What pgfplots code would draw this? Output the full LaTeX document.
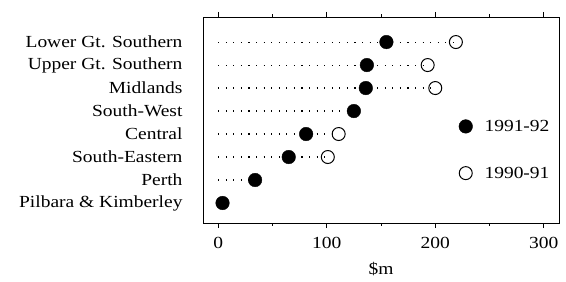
\documentclass[border=0pt]{standalone}
\usepackage{fontspec}
\setmainfont[FakeStretch=1.15]{Liberation Serif}
\usepackage{pgfplots}
\pgfplotsset{compat=1.18}
\begin{document}
\begin{tikzpicture}
\path[use as bounding box] (-203bp,-59bp) rectangle (363bp,223bp);
\begin{axis}[
  width=356bp, height=206bp, scale only axis,
  xmin=-14, xmax=314, ymin=0.13, ymax=9.09,
  axis line style={line width=0.8pt},
  xtick={0,100,200,300}, minor xtick={50,150,250},
  tick align=outside, xtick pos=both,
  major tick length=5bp, minor tick length=2.5bp,
  tick style={black, line width=0.8pt},
  ytick={1,2,3,4,5,6,7,8},
  yticklabels={Pilbara \& Kimberley, Perth, South-Eastern, Central, South-West, Midlands, Upper Gt. Southern, Lower Gt. Southern},
  y tick style={draw=none},
  yticklabel style={xshift=-12bp},
  xticklabel style={yshift=-6bp},
  ticklabel style={font=\fontsize{17}{19}\selectfont},
  /pgf/number format/assume math mode=true,
  xlabel={\$m}, xlabel style={font=\fontsize{17}{19}\selectfont, yshift=-6bp},
  unbounded coords=jump,
  legend style={draw=none, fill=none, at={(0.71,0.52)}, anchor=north west, row sep=30bp, column sep=10bp, font=\fontsize{17}{19}\selectfont},
  legend cell align=left,
]
\addplot[forget plot, line width=1.1pt, dash pattern=on 1.1pt off 6.5pt] coordinates {
  (0,8) (219,8) (nan,nan)
  (0,7) (193,7) (nan,nan)
  (0,6) (200,6) (nan,nan)
  (0,5) (125,5) (nan,nan)
  (0,4) (111,4) (nan,nan)
  (0,3) (101,3) (nan,nan)
  (0,2) (34,2) (nan,nan)
};
\addplot[only marks, mark=*, mark size=6.8bp, mark options={fill=black, draw=black}] coordinates {
  (155,8) (137,7) (136,6) (125,5) (81,4) (65,3) (34,2) (4,1)
};
\addlegendentry{1991-92}
\addplot[only marks, mark=o, mark size=6.5bp, mark options={fill=white, draw=black, line width=1pt}] coordinates {
  (219,8) (193,7) (200,6) (111,4) (101,3)
};
\addlegendentry{1990-91}
\end{axis}
\end{tikzpicture}
\end{document}
